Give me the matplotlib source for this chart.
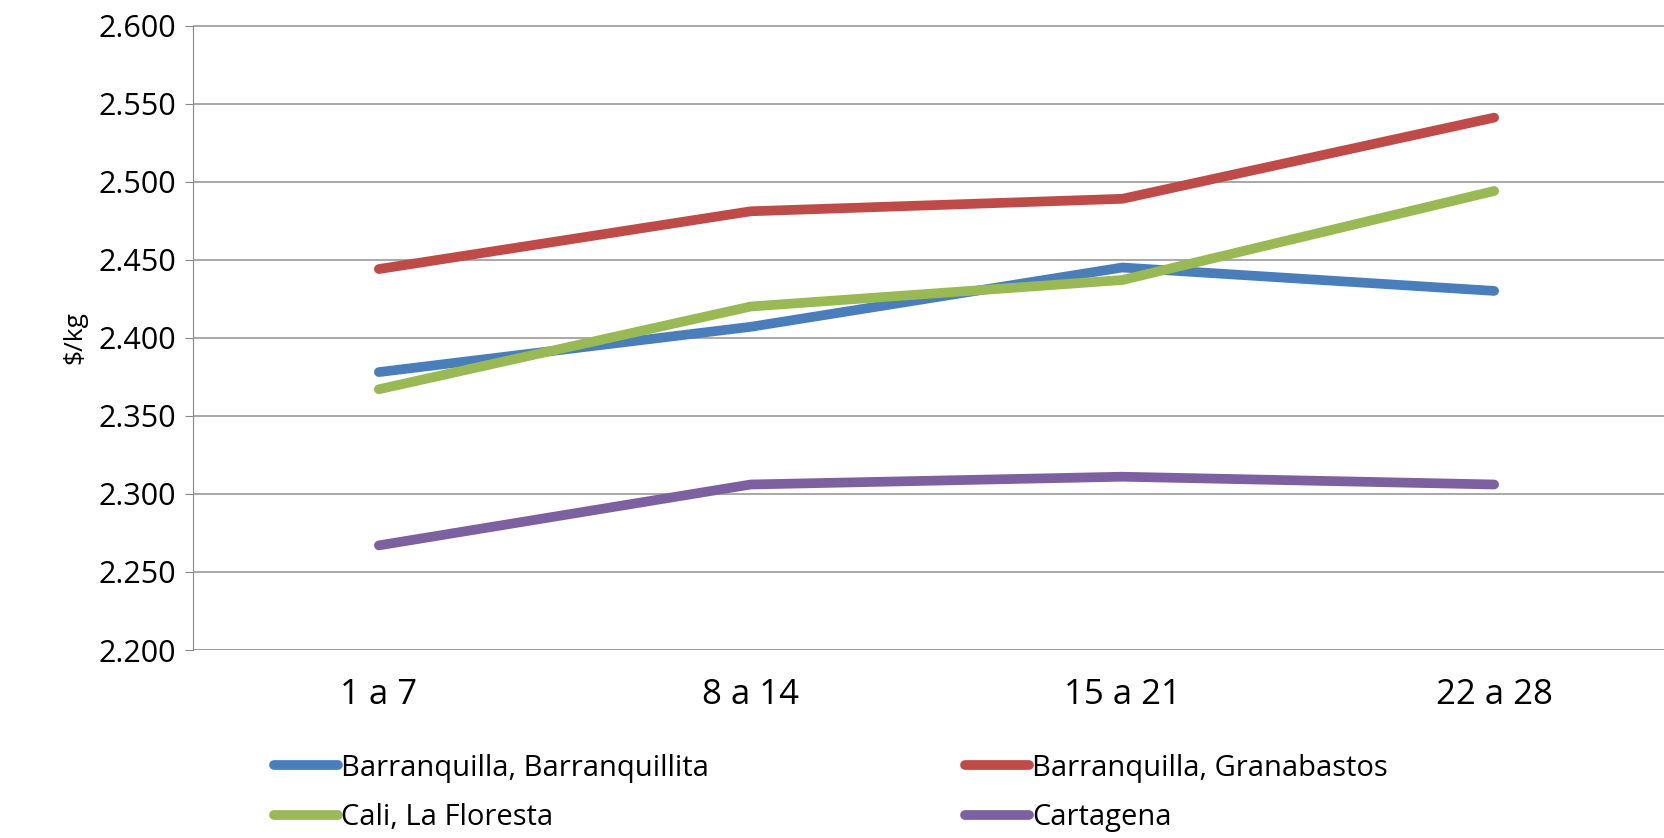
import matplotlib
matplotlib.use("Agg")
import matplotlib.pyplot as plt

plt.rcParams['font.family'] = ['Open Sans', 'DejaVu Sans']

weeks = ["1 a 7", "8 a 14", "15 a 21", "22 a 28"]
barranquillita = [2378, 2407, 2445, 2430]
granabastos = [2444, 2481, 2489, 2541]
floresta = [2367, 2420, 2437, 2494]
cartagena = [2267, 2306, 2311, 2306]
yticks = [2200, 2250, 2300, 2350, 2400, 2450, 2500, 2550, 2600]
ylabels = ["2.200", "2.250", "2.300", "2.350", "2.400", "2.450", "2.500", "2.550", "2.600"]

series = [("Barranquilla, Barranquillita", barranquillita, "#4a7ebb"),
          ("Barranquilla, Granabastos", granabastos, "#be4b48"),
          ("Cali, La Floresta", floresta, "#98b954"),
          ("Cartagena", cartagena, "#7d60a0")]

fig = plt.figure(figsize=(16.65, 8.38), dpi=100)
ax = fig.add_axes([193/1665, 1-650/838, (1680-193)/1665, (650-25.5)/838])
x = range(len(weeks))
handles = []
for name, vals, c in series:
    h, = ax.plot(x, vals, color=c, lw=7, solid_capstyle='round', label=name)
    handles.append(h)

ax.set_xlim(-0.5, 3.5)
ax.set_ylim(2200, 2600)
ax.set_yticks(yticks)
ax.set_yticklabels(ylabels, fontsize=22)
ax.set_xticks(list(x))
ax.set_xticklabels(weeks, fontsize=25)
ax.tick_params(axis='x', length=0, pad=20)
ax.tick_params(axis='y', length=6, color='#888888', pad=6)
ax.grid(axis='y', color='#999999', lw=1.2)
ax.set_axisbelow(True)
for s in ['top', 'right', 'bottom']:
    ax.spines[s].set_visible(False)
ax.spines['left'].set_color('#888888')
ax.axhline(2200, color='#999999', lw=1.2)
ax.set_ylabel("$/kg", fontsize=19, labelpad=8)

# column-major fill -> reorder so rows read blue/red, green/purple
order = [handles[0], handles[2], handles[1], handles[3]]
fig.legend(handles=order, loc='upper left', bbox_to_anchor=(262/1665, 1-742/838),
           ncol=2, frameon=False, fontsize=21, handlelength=2.2, handletextpad=0.1,
           columnspacing=8.8, labelspacing=0.7, borderaxespad=0)
fig.savefig("out.png")
